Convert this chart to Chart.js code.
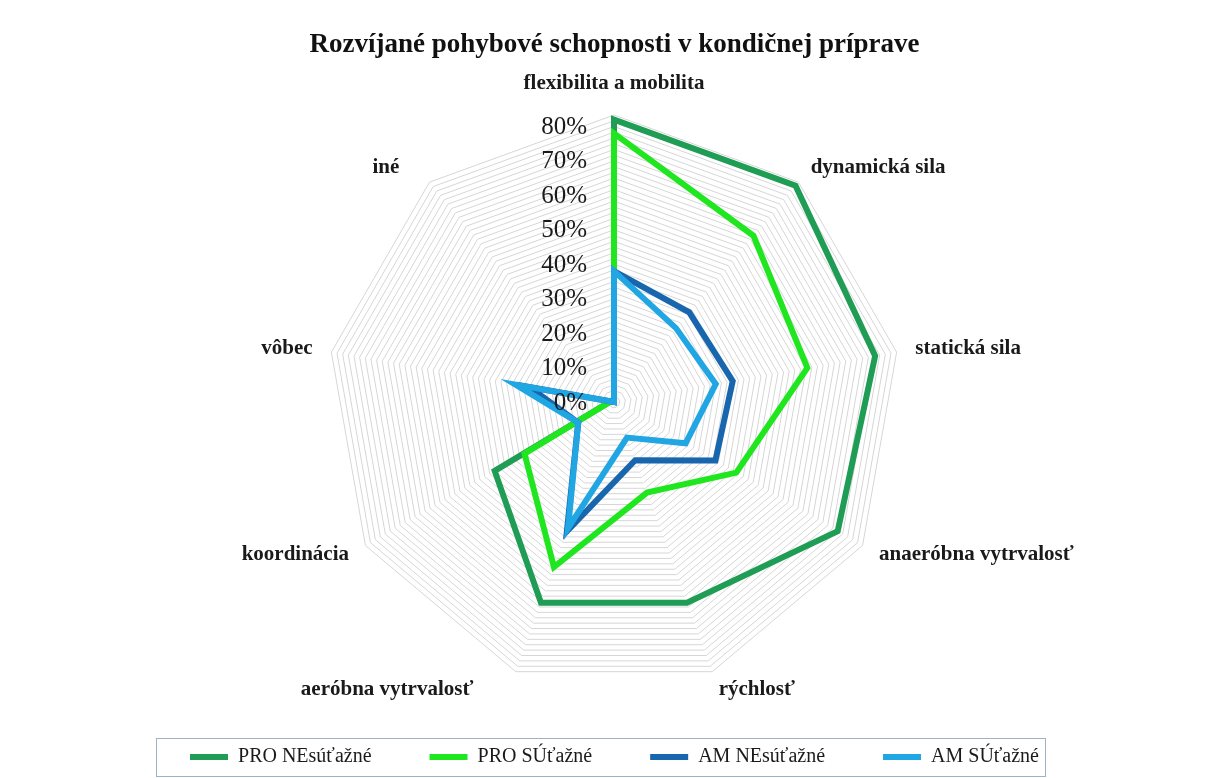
<!DOCTYPE html>
<html><head><meta charset="utf-8">
<script src="https://cdn.jsdelivr.net/npm/chart.js@4.4.0/dist/chart.umd.min.js"></script>
<style>html,body{margin:0;padding:0;background:#fff;}#wrap{width:1205px;height:778px;}</style>
</head><body><div id="wrap"><canvas id="c" width="1205" height="778"></canvas></div>
<script>
const chartTitle = 'Rozvíjané pohybové schopnosti v kondičnej príprave';
const categories = ['flexibilita a mobilita','dynamická sila','statická sila','anaeróbna vytrvalosť','rýchlosť','aeróbna vytrvalosť','koordinácia','vôbec','iné'];
const seriesNames = ['PRO NEsúťažné','PRO SÚťažné','AM NEsúťažné','AM SÚťažné'];
const proNesutazne = [0.82, 0.82, 0.77, 0.75, 0.62, 0.62, 0.40, 0.01, 0.00];
const proSutazne   = [0.78, 0.63, 0.57, 0.41, 0.28, 0.51, 0.30, 0.01, 0.00];
const amNesutazne  = [0.38, 0.34, 0.35, 0.34, 0.18, 0.40, 0.12, 0.25, 0.00];
const amSutazne    = [0.38, 0.28, 0.30, 0.24, 0.11, 0.39, 0.12, 0.29, 0.00];
const tickValues = [0, 0.1, 0.2, 0.3, 0.4, 0.5, 0.6, 0.7, 0.8];
const tickLabels = ['0%','10%','20%','30%','40%','50%','60%','70%','80%'];
const gridRingCount = 50;
const gridRingStep = 1/60;

const colors = ['#1f9d55','#20e620','#1766ae','#20a6e2'];
const seriesData = [proNesutazne, proSutazne, amNesutazne, amSutazne];
const drawOrder = [4,3,2,1];

const overlay = {
  id: 'overlay',
  afterDraw(chart) {
    const s = chart.scales.r, ctx = chart.ctx;
    const nudgeX = { 5: -36, 8: -18 };
    ctx.save();
    ctx.fillStyle = '#1a1a1a';
    ctx.font = 'bold 21px "Liberation Serif"';
    ctx.textBaseline = 'middle';
    categories.forEach((lab, i) => {
      const p = s.getPointPosition(i, s.drawingArea + 19);
      let align = 'center';
      if (p.x > s.xCenter + 5) align = 'left'; else if (p.x < s.xCenter - 5) align = 'right';
      ctx.textAlign = align;
      let y = p.y;
      if (align === 'center') y += (p.y < s.yCenter ? -12 : 12);
      ctx.fillText(lab, p.x + (nudgeX[i] || 0), y);
    });
    ctx.font = '25px "Liberation Serif"';
    ctx.textAlign = 'right';
    tickValues.forEach((v, i) => {
      const d = s.getDistanceFromCenterForValue(v);
      ctx.fillText(tickLabels[i], s.xCenter - 27, s.yCenter - d + 1);
    });
    const hb = chart.legend.legendHitBoxes;
    if (hb && hb.length) {
      const l = Math.min(...hb.map(h => h.left)) - 34;
      const r = Math.max(...hb.map(h => h.left + h.width)) + 6;
      const cy = hb[0].top + hb[0].height / 2;
      ctx.strokeStyle = '#9fb3c6';
      ctx.lineWidth = 1;
      ctx.strokeRect(Math.round(l) + 0.5, Math.round(cy - 19) + 0.5, Math.round(r - l), 38);
    }
    ctx.restore();
  }
};

new Chart(document.getElementById('c'), {
  type: 'radar',
  data: {
    labels: categories,
    datasets: seriesNames.map((name, i) => ({
      label: name,
      data: seriesData[i],
      borderColor: colors[i],
      backgroundColor: colors[i],
      borderWidth: 6,
      fill: false,
      pointRadius: 0,
      pointHoverRadius: 0,
      tension: 0,
      borderJoinStyle: 'miter',
      order: drawOrder[i]
    }))
  },
  options: {
    responsive: false,
    animation: false,
    devicePixelRatio: 1,
    layout: { padding: { left: 24, right: 0, top: 0, bottom: 1 } },
    plugins: {
      title: {
        display: true,
        text: chartTitle,
        color: '#111',
        font: { family: '"Liberation Serif"', size: 27, weight: 'bold', lineHeight: 1.2 },
        padding: { top: 29, bottom: 53.6 }
      },
      legend: {
        position: 'bottom',
        labels: {
          usePointStyle: true,
          pointStyle: 'line',
          pointStyleWidth: 38,
          padding: 58,
          color: '#1a1a1a',
          font: { family: '"Liberation Serif"', size: 20 },
          sort: (a, b) => a.datasetIndex - b.datasetIndex
        }
      },
      tooltip: { enabled: false }
    },
    scales: {
      r: {
        min: 0,
        max: gridRingCount * gridRingStep,
        afterBuildTicks: (scale) => {
          const t = [];
          for (let k = 0; k <= gridRingCount; k++) t.push({ value: k * gridRingStep });
          scale.ticks = t;
        },
        ticks: { display: false },
        pointLabels: { display: false },
        angleLines: { display: false },
        grid: { color: '#d6d6d6', lineWidth: 1 }
      }
    }
  },
  plugins: [overlay]
});
</script></body></html>
